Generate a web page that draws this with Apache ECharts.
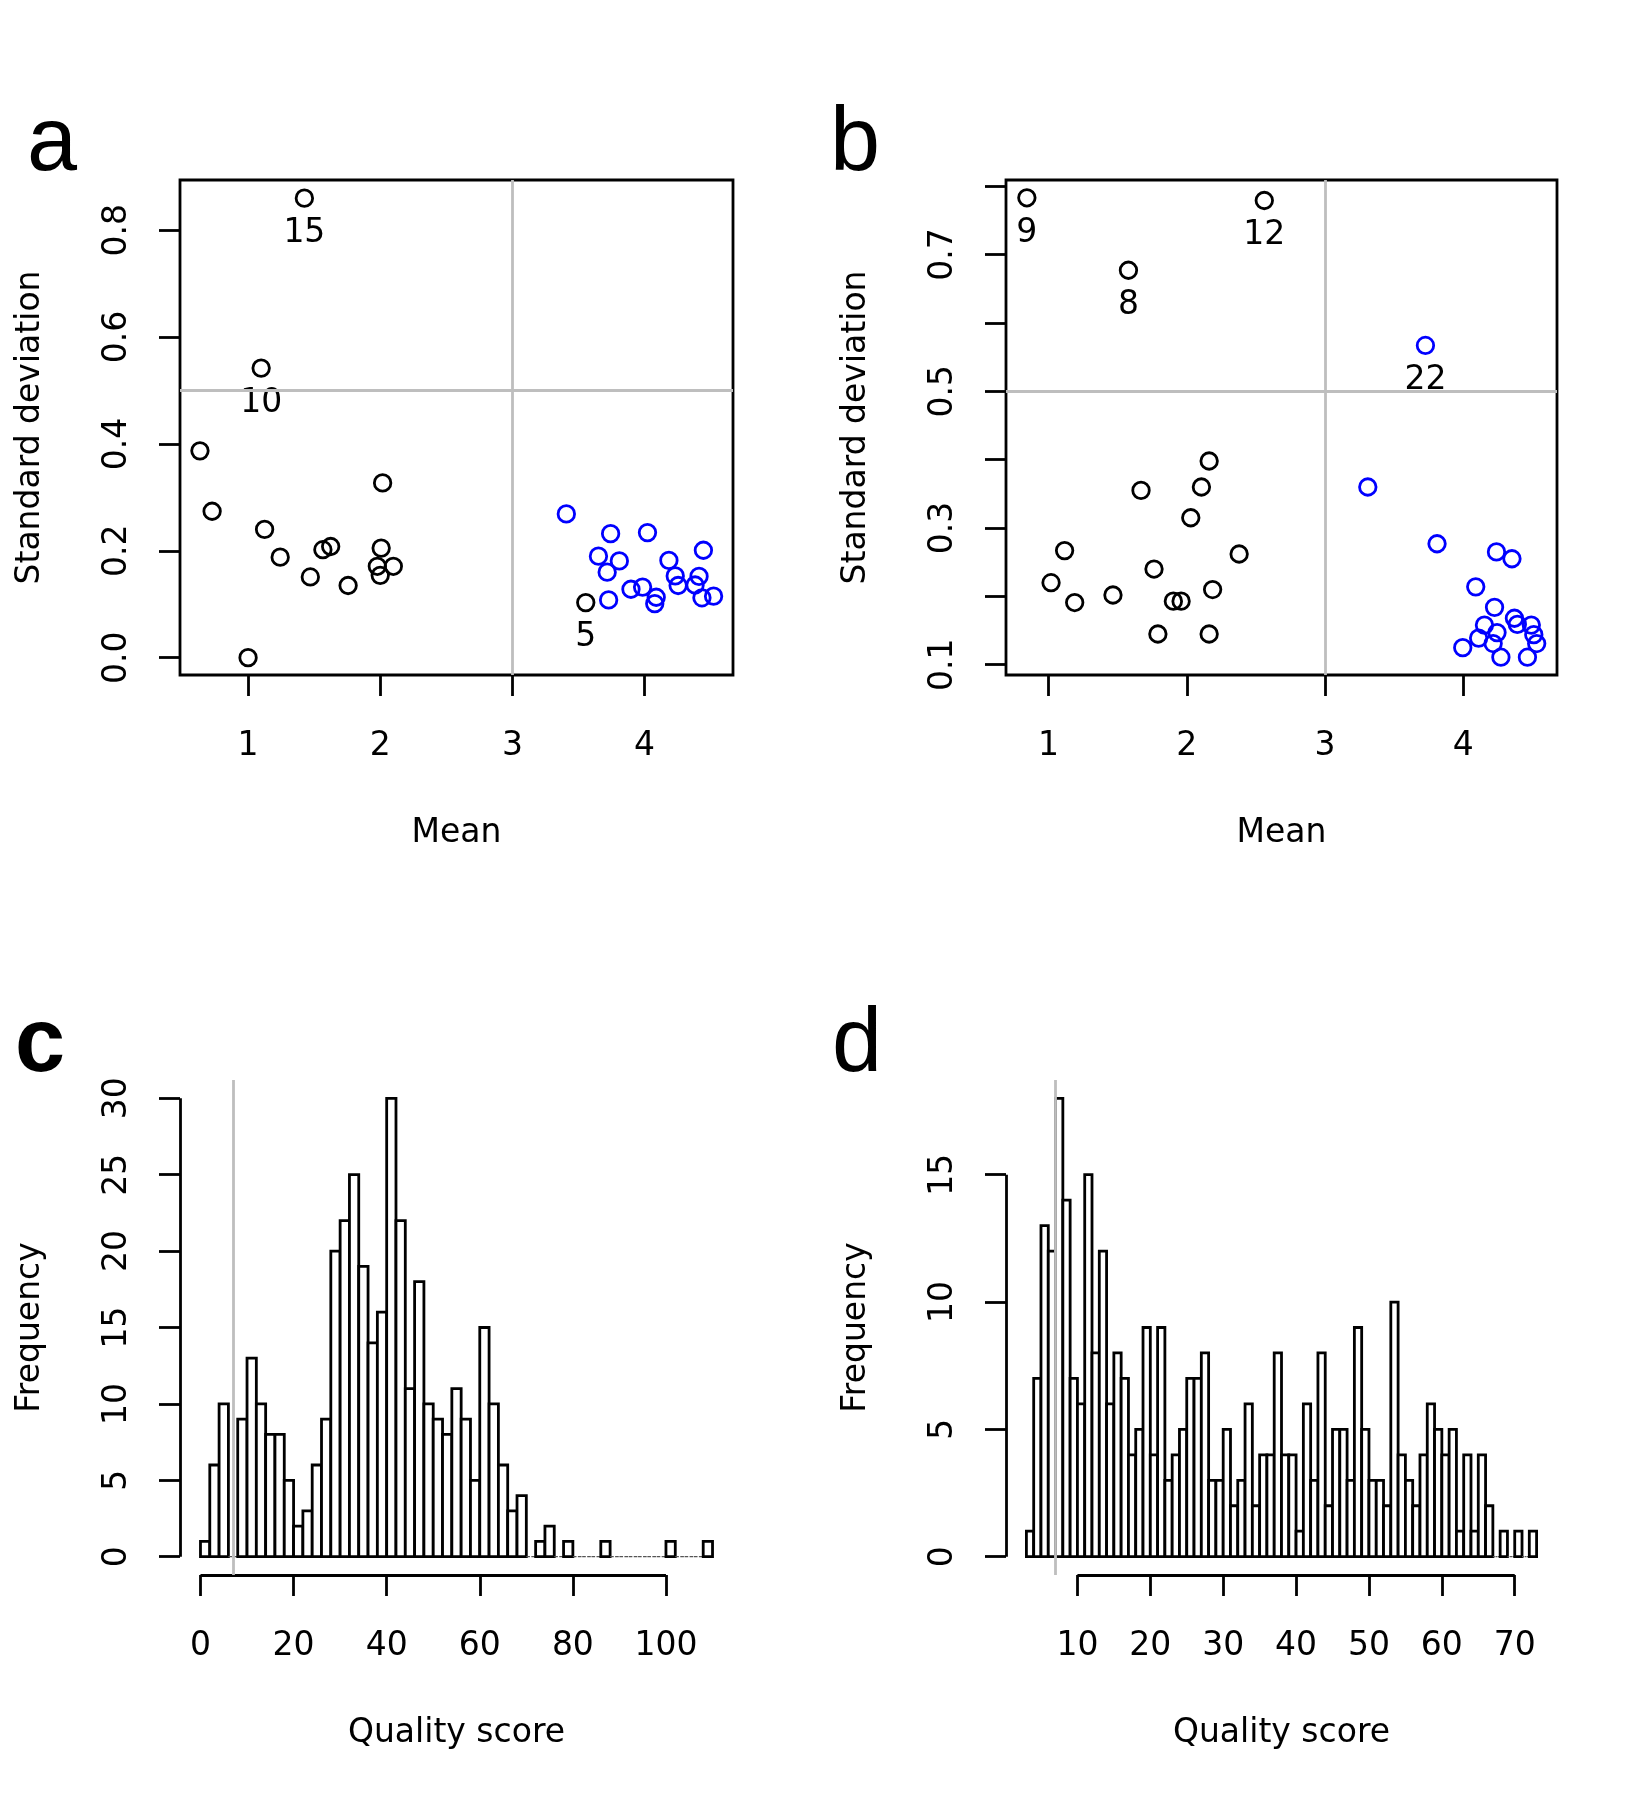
<!DOCTYPE html>
<html>
<head>
<meta charset="utf-8">
<title>Mean vs standard deviation, quality score histograms</title>
<script src="https://cdn.jsdelivr.net/npm/echarts@6/dist/echarts.min.js"></script>
<style>
  html, body { margin: 0; padding: 0; background: #fff; }
  #chart { width: 1650px; height: 1800px; }
</style>
</head>
<body>
<div id="chart"></div>
<script>
// panel a: item mean vs standard deviation (black = kept, blue = flagged)
const aBlackMean = [1.426, 1.099, 0.636, 0.728, 1.125, 1.243, 1.471, 1.566, 1.625, 1.757, 2.018, 2.007, 1.978, 2.000, 2.099, 1.000, 3.555];
const aBlackSd   = [0.860, 0.542, 0.387, 0.274, 0.240, 0.188, 0.151, 0.202, 0.208, 0.135, 0.327, 0.205, 0.171, 0.154, 0.171, 0.000, 0.103];
const aBlackTag  = ['15', '10', '', '', '', '', '', '', '', '', '', '', '', '', '', '', '5'];
const aBlueMean  = [3.408, 3.743, 3.651, 3.809, 3.717, 3.728, 3.897, 3.985, 4.022, 4.088, 4.077, 4.184, 4.232, 4.254, 4.412, 4.382, 4.445, 4.434, 4.522];
const aBlueSd    = [0.269, 0.232, 0.190, 0.181, 0.160, 0.108, 0.128, 0.132, 0.234, 0.113, 0.101, 0.182, 0.153, 0.135, 0.152, 0.136, 0.201, 0.112, 0.115];
const aBlueTag   = [];

// panel b
const bBlackMean = [0.843, 2.561, 1.578, 2.162, 1.669, 2.106, 2.029, 2.379, 1.116, 1.018, 1.189, 1.466, 1.763, 1.903, 1.959, 2.187, 1.791, 2.162];
const bBlackSd   = [0.783, 0.779, 0.677, 0.398, 0.355, 0.360, 0.315, 0.262, 0.267, 0.220, 0.191, 0.202, 0.240, 0.193, 0.193, 0.210, 0.145, 0.145];
const bBlackTag  = ['9', '12', '8'];
const bBlueMean  = [3.727, 3.310, 3.811, 4.241, 4.353, 4.091, 4.227, 4.371, 4.392, 4.493, 4.154, 4.245, 4.112, 4.511, 4.532, 3.997, 4.217, 4.273, 4.465];
const bBlueSd    = [0.567, 0.360, 0.277, 0.265, 0.255, 0.214, 0.184, 0.168, 0.159, 0.158, 0.158, 0.147, 0.139, 0.144, 0.131, 0.125, 0.131, 0.111, 0.111];
const bBlueTag   = ['22'];

// panel c: histogram, bins of width 2
const cBinStart = [0, 2, 4, 6, 8, 10, 12, 14, 16, 18, 20, 22, 24, 26, 28, 30, 32, 34, 36, 38, 40, 42, 44, 46, 48, 50, 52, 54,
  56, 58, 60, 62, 64, 66, 68, 70, 72, 74, 76, 78, 80, 82, 84, 86, 88, 90, 92, 94, 96, 98, 100, 102, 104, 106, 108];
const cCounts = [1, 6, 10, 0, 9, 13, 10, 8, 8, 5, 2, 3, 6, 9, 20, 22, 25, 19, 14, 16, 30, 22, 11, 18, 10, 9, 8, 11,
  9, 5, 15, 10, 6, 3, 4, 0, 1, 2, 0, 1, 0, 0, 0, 1, 0, 0, 0, 0, 0, 0, 1, 0, 0, 0, 1];

// panel d: histogram, bins of width 1
const dBinStart = [3, 4, 5, 6, 7, 8, 9, 10, 11, 12, 13, 14, 15, 16, 17, 18, 19, 20, 21, 22, 23, 24, 25, 26, 27, 28, 29, 30,
  31, 32, 33, 34, 35, 36, 37, 38, 39, 40, 41, 42, 43, 44, 45, 46, 47, 48, 49, 50, 51, 52, 53, 54, 55, 56, 57, 58,
  59, 60, 61, 62, 63, 64, 65, 66, 67, 68, 69, 70, 71, 72];
const dCounts = [1, 7, 13, 12, 18, 14, 7, 6, 15, 8, 12, 6, 8, 7, 4, 5, 9, 4, 9, 3, 4, 5, 7, 7, 8, 3, 3, 5,
  2, 3, 6, 2, 4, 4, 8, 4, 4, 1, 6, 3, 8, 2, 5, 5, 3, 9, 5, 3, 3, 2, 10, 4, 3, 2, 4, 6,
  5, 4, 5, 1, 4, 1, 4, 2, 0, 1, 0, 1, 0, 1];

// ticks and labels
const aMeanTicks = [1, 2, 3, 4];
const aSdTicks = [0, 0.2, 0.4, 0.6, 0.8];
const bSdTicks = [0.1, 0.2, 0.3, 0.4, 0.5, 0.6, 0.7, 0.8];
const bSdLabels = [0.1, 0.3, 0.5, 0.7];
const cScoreTicks = [0, 20, 40, 60, 80, 100];
const cFreqTicks = [0, 5, 10, 15, 20, 25, 30];
const dScoreTicks = [10, 20, 30, 40, 50, 60, 70];
const dFreqTicks = [0, 5, 10, 15];
const panelLetters = ['a', 'b', 'c', 'd'];

// cut-offs drawn as grey reference lines
const meanCut = 3;
const sdCut = 0.5;
const scoreCut = 7;

const FONT = '"DejaVu Sans", "Liberation Sans", Arial, sans-serif';
const LETTER_FONT = '"Liberation Sans", Arial, Helvetica, sans-serif';
const FS = 33;
const LW = 2.8;
const GREY = '#bebebe';

// plot regions (R style, axis range padded by 4%)
const limits = [
  { x: [0.485, 4.669], y: [-0.0325, 0.894] },
  { x: [0.692, 4.679], y: [0.085, 0.809] },
  { x: [-4.4, 114.4], y: [-1.2, 31.2] },
  { x: [0.2, 75.8], y: [-0.72, 18.72] }
];
const boxes = [
  { left: 180, top: 180, width: 553, height: 495 },
  { left: 1006, top: 180, width: 551, height: 495 },
  { left: 180, top: 1080, width: 553, height: 495 },
  { left: 1006, top: 1080, width: 551, height: 495 }
];

const zip = (xs, ys) => xs.map((x, i) => [x, ys[i]]);
const textStyle = { fontFamily: FONT, fontSize: FS, color: '#000' };

function xAxisOf(i, ticks, name, fmt) {
  return {
    type: 'value', gridIndex: i, min: limits[i].x[0], max: limits[i].x[1],
    name, nameLocation: 'middle', nameGap: 142, nameTextStyle: textStyle,
    axisLine: { show: false, onZero: false },
    axisTick: { show: true, inside: false, length: 21, customValues: ticks,
      lineStyle: { color: '#000', width: LW } },
    axisLabel: Object.assign({ margin: 55, customValues: ticks, formatter: fmt }, textStyle),
    splitLine: { show: false }
  };
}

function yAxisOf(i, ticks, labels, name, fmt) {
  return {
    type: 'value', gridIndex: i, min: limits[i].y[0], max: limits[i].y[1],
    name, nameLocation: 'middle', nameGap: 133, nameTextStyle: textStyle,
    axisLine: { show: false, onZero: false },
    axisTick: { show: true, inside: false, length: 21, customValues: ticks,
      lineStyle: { color: '#000', width: LW } },
    axisLabel: Object.assign({ margin: 46, rotate: 90, customValues: labels, formatter: fmt }, textStyle),
    splitLine: { show: false }
  };
}

function scatterOf(i, data, tags, color, withLines) {
  const s = {
    type: 'scatter', xAxisIndex: i, yAxisIndex: i, data,
    symbol: 'circle', symbolSize: 16.5, silent: true,
    itemStyle: { color: 'rgba(0,0,0,0)', borderColor: color, borderWidth: LW, opacity: 1 },
    emphasis: { disabled: true },
    label: Object.assign({ show: true, position: 'bottom', distance: 9,
      formatter: (p) => tags[p.dataIndex] || '' }, textStyle)
  };
  if (withLines) {
    s.markLine = {
      silent: true, symbol: ['none', 'none'], label: { show: false },
      lineStyle: { color: GREY, width: LW, type: 'solid' },
      data: [{ xAxis: meanCut }, { yAxis: sdCut }]
    };
  }
  return s;
}

function histOf(i, starts, counts, binWidth, xTicks, yTicks) {
  const xl = limits[i].x, yl = limits[i].y;
  const black = { color: '#000', width: LW, type: 'solid' };
  return {
    type: 'custom', xAxisIndex: i, yAxisIndex: i, clip: false, silent: true,
    data: zip(starts, counts),
    renderItem: (params, api) => {
      const n = api.value(1);
      const lo = api.coord([api.value(0), 0]);
      const hi = api.coord([api.value(0) + binWidth, n]);
      return {
        type: 'rect',
        shape: { x: lo[0], y: hi[1], width: hi[0] - lo[0], height: lo[1] - hi[1] },
        style: n === 0
          ? { fill: 'none', stroke: '#555', lineWidth: 1.2, lineDash: [2, 3] }
          : { fill: '#fff', stroke: '#000', lineWidth: LW }
      };
    },
    markLine: {
      silent: true, symbol: ['none', 'none'], label: { show: false },
      data: [
        [{ coord: [xTicks[0], yl[0]], lineStyle: black }, { coord: [xTicks[xTicks.length - 1], yl[0]] }],
        [{ coord: [xl[0], yTicks[0]], lineStyle: black }, { coord: [xl[0], yTicks[yTicks.length - 1]] }],
        { xAxis: scoreCut, lineStyle: { color: GREY, width: LW, type: 'solid' } }
      ]
    }
  };
}

const one = (v) => v.toFixed(1);
const plain = (v) => String(v);

const letterPos = [
  { x: 27, y: 145, weight: 'normal' },
  { x: 830, y: 145, weight: 'normal' },
  { x: 15, y: 1046, weight: 'bold' },
  { x: 832, y: 1046, weight: 'normal' }
];

const option = {
  animation: false,
  backgroundColor: '#fff',
  grid: boxes.map((b, i) => Object.assign({
    show: i < 2, borderColor: '#000', borderWidth: LW, backgroundColor: 'rgba(0,0,0,0)',
    containLabel: false, outerBoundsMode: 'none'
  }, b)),
  xAxis: [
    xAxisOf(0, aMeanTicks, 'Mean', plain),
    xAxisOf(1, aMeanTicks, 'Mean', plain),
    xAxisOf(2, cScoreTicks, 'Quality score', plain),
    xAxisOf(3, dScoreTicks, 'Quality score', plain)
  ],
  yAxis: [
    yAxisOf(0, aSdTicks, aSdTicks, 'Standard deviation', one),
    yAxisOf(1, bSdTicks, bSdLabels, 'Standard deviation', one),
    yAxisOf(2, cFreqTicks, cFreqTicks, 'Frequency', plain),
    yAxisOf(3, dFreqTicks, dFreqTicks, 'Frequency', plain)
  ],
  series: [
    scatterOf(0, zip(aBlackMean, aBlackSd), aBlackTag, '#000', true),
    scatterOf(0, zip(aBlueMean, aBlueSd), aBlueTag, '#0000ff', false),
    scatterOf(1, zip(bBlackMean, bBlackSd), bBlackTag, '#000', true),
    scatterOf(1, zip(bBlueMean, bBlueSd), bBlueTag, '#0000ff', false),
    histOf(2, cBinStart, cCounts, 2, cScoreTicks, cFreqTicks),
    histOf(3, dBinStart, dCounts, 1, dScoreTicks, dFreqTicks)
  ],
  graphic: panelLetters.map((t, i) => ({
    type: 'text', silent: true,
    style: {
      text: t, x: letterPos[i].x, y: letterPos[i].y,
      font: letterPos[i].weight + ' 90px ' + LETTER_FONT,
      fill: '#000', textAlign: 'left', textVerticalAlign: 'middle'
    }
  }))
};

const chart = echarts.init(document.getElementById('chart'), null, { renderer: 'canvas' });
chart.setOption(option);
</script>
</body>
</html>
